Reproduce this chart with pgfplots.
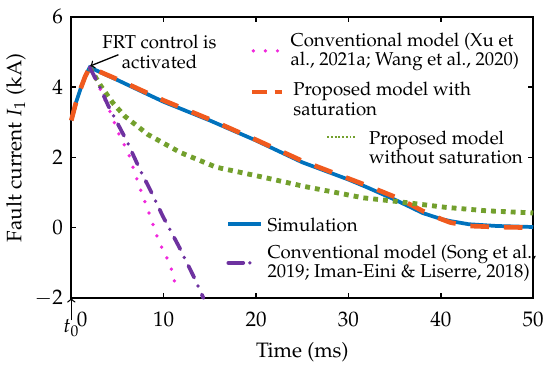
\documentclass[border=0pt]{standalone}
\usepackage[T1]{fontenc}
\usepackage{mathpazo}
\usepackage{pgfplots}
\pgfplotsset{compat=1.18}
\definecolor{cblue}{RGB}{0,114,189}
\definecolor{corange}{RGB}{240,90,30}
\definecolor{cgreen}{RGB}{115,160,45}
\definecolor{cpink}{RGB}{240,40,220}
\definecolor{cpurple}{RGB}{110,50,160}
\tikzset{
 simstyle/.style={cblue, line width=2pt},
 satstyle/.style={corange, line width=2.5pt, dash pattern=on 10pt off 8pt},
 nosatstyle/.style={cgreen, line width=2.6pt, dash pattern=on 2.6pt off 2.7pt},
 xustyle/.style={cpink, line width=2pt, line cap=round, dash pattern=on 0pt off 6.5pt},
 songstyle/.style={cpurple, line width=2pt, line cap=round, dash pattern=on 7pt off 5pt on 0pt off 5pt},
 legtxt/.style={anchor=west, align=left, inner sep=0pt, font=\fontsize{10}{10.5}\selectfont},
}
\begin{document}
\begin{tikzpicture}
\begin{axis}[
  scale only axis, width=248pt, height=151pt,
  xmin=0, xmax=50, ymin=-2, ymax=6,
  xtick={0,10,20,30,40,50},
  xticklabels={{\hspace*{11.6pt}0},10,20,30,40,50},
  ytick={-2,0,2,4,6},
  tick align=inside, major tick length=2.8pt,
  every tick/.style={black, line width=0.8pt},
  axis line style={line width=0.9pt},
  tick label style={font=\fontsize{11.3}{13}\selectfont},
  xticklabel style={yshift=-4pt},
  yticklabel style={xshift=-1pt},
  label style={font=\fontsize{11.2}{13}\selectfont},
  xlabel={Time (ms)}, ylabel={Fault current $I_1$ (kA)},
  xlabel style={yshift=-1.5pt},
  ylabel style={yshift=-2pt, xshift=5pt},
  clip=false,
]
% Simulation
\addplot[simstyle] coordinates {(0,3.05)(0.5,3.55)(1,3.95)(1.5,4.3)(2,4.56)(5,4.2)(10,3.58)(15,3.05)(20,2.48)(25,1.86)(30,1.37)(32,1.15)(35,0.8)(37,0.55)(38,0.42)(40,0.25)(41,0.19)(43,0.1)(46,0.05)(50,0.02)};
% Proposed with saturation
\addplot[satstyle] coordinates {(0,3.05)(0.5,3.55)(1,3.95)(1.5,4.3)(2,4.56)(5,4.22)(10,3.62)(15,3.08)(20,2.5)(25,1.9)(30,1.4)(32,1.2)(35,0.88)(37,0.62)(38,0.48)(40,0.25)(41,0.15)(43,0.05)(46,0.02)(50,0.0)};
% Proposed without saturation
\addplot[nosatstyle] coordinates {(2,4.56)(3.2,4.03)(4.5,3.55)(5.8,3.17)(8.3,2.65)(11.8,2.14)(15.7,1.72)(20.7,1.44)(25.3,1.17)(31.6,0.85)(35.1,0.75)(40.5,0.58)(45,0.48)(50,0.42)};
% Conventional (Xu; Wang)
\addplot[xustyle] coordinates {(2,4.56)(3.3,3.85)(4.2,3.3)(5.1,2.7)(6.2,2.1)(7.4,1.15)(8.3,0.5)(9.5,-0.4)(10.7,-1.05)(11.4,-1.75)};
% Conventional (Song; Iman-Eini)
\addplot[songstyle] coordinates {(2,4.56)(3,4.05)(4,3.47)(6,2.47)(7.4,1.67)(8.8,0.94)(9.9,0.33)(11.7,-0.56)(13.4,-1.47)(14.3,-2.0)};

% legend entries
\draw[xustyle] (axis cs:19.7,5.03) -- (axis cs:22.4,5.03);
\node[legtxt] at (axis cs:23.7,5.0) {Conventional model (Xu et\\al., 2021a; Wang et al., 2020)};
\draw[satstyle, dash pattern=on 8pt off 4pt] (axis cs:19.6,3.86) -- (axis cs:22.8,3.86);
\node[legtxt] at (axis cs:24.0,3.67) {Proposed model with\\saturation};
\draw[nosatstyle, line width=1.6pt, dash pattern=on 1pt off 1pt] (axis cs:27.7,2.58) -- (axis cs:30.8,2.58);
\node[legtxt] at (axis cs:32.2,2.28) {Proposed model\\without saturation};
\draw[simstyle] (axis cs:17.0,0.11) -- (axis cs:20.5,0.11);
\node[legtxt] at (axis cs:21.2,0.08) {Simulation};
\draw[songstyle, dash pattern=on 8pt off 3.5pt on 0pt off 4pt] (axis cs:17.0,-1.0) -- (axis cs:20.0,-1.0);
\node[legtxt] at (axis cs:21.2,-1.01) {Conventional model (Song et al.,\\2019; Iman-Eini \& Liserre, 2018)};

% annotation
\node[align=center, inner sep=0pt, font=\fontsize{10}{10.5}\selectfont] at (axis cs:9.55,5.0) {FRT control is\\activated};
\draw[->, line width=0.7pt] (axis cs:5.1,4.92) -- (axis cs:2.05,4.6);
\draw[->, line width=0.7pt] ([yshift=-12pt]rel axis cs:0,0) -- (rel axis cs:0,0);
\node[inner sep=0pt, font=\fontsize{11}{13}\selectfont] at ([yshift=-16pt]rel axis cs:0,0) {$t_0$};
\path ([xshift=-32.7pt,yshift=-32.7pt]rel axis cs:0,0) ([xshift=9pt,yshift=9pt]rel axis cs:1,1);
\end{axis}
\end{tikzpicture}
\end{document}
